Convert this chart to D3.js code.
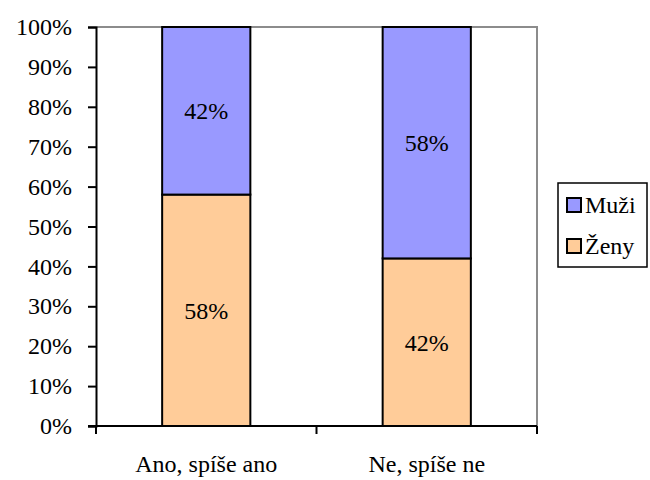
<!DOCTYPE html>
<html>
<head>
<meta charset="utf-8">
<script src="https://cdn.jsdelivr.net/npm/d3@7"></script>
<style>
  html, body { margin: 0; padding: 0; background: #fff; }
  svg { display: block; }
  svg text { font-family: "Times New Roman", "Liberation Serif", Tinos, "DejaVu Serif", serif !important; fill: #000; }
</style>
</head>
<body>
<svg id="chart" width="650" height="480"></svg>
<script>
// Share of answers by gender, per answer group
const categories = ["Ano, spíše ano", "Ne, spíše ne"];
const seriesNames = ["Ženy", "Muži"];
const zeny = [58, 42];
const muzi = [42, 58];
const yTicks = [0, 10, 20, 30, 40, 50, 60, 70, 80, 90, 100];
const colors = { "Muži": "#9999FF", "Ženy": "#FFCC99" };

const svg = d3.select("#chart");
const plot = { left: 96, right: 537, top: 27, bottom: 426 };

const x = d3.scaleBand().domain(categories).range([plot.left, plot.right]).paddingInner(0.6).paddingOuter(0.3);
const y = d3.scaleLinear().domain([0, 100]).range([plot.bottom, plot.top]);

// Stack the two series (women at the bottom, men on top)
const rows = categories.map((c, i) => ({ cat: c, "Ženy": zeny[i], "Muži": muzi[i] }));
const stacked = d3.stack().keys(seriesNames)(rows);

// Plot-area frame (top and right edges in grey)
svg.append("path")
  .attr("d", `M${plot.left},${plot.top}H${plot.right}V${plot.bottom}`)
  .attr("fill", "none").attr("stroke", "#8c8c8c").attr("stroke-width", 2);

// Bars
stacked.forEach(layer => {
  const key = layer.key;
  svg.append("g").selectAll("rect").data(layer).join("rect")
    .attr("x", d => x(d.data.cat))
    .attr("width", x.bandwidth())
    .attr("y", d => y(d[1]))
    .attr("height", d => y(d[0]) - y(d[1]))
    .attr("fill", colors[key])
    .attr("stroke", "#000").attr("stroke-width", 2);

  svg.append("g").selectAll("text").data(layer).join("text")
    .attr("x", d => x(d.data.cat) + x.bandwidth() / 2)
    .attr("y", d => (y(d[0]) + y(d[1])) / 2)
    .attr("dy", "0.35em")
    .attr("text-anchor", "middle")
    .attr("font-size", 24)
    .text(d => (d[1] - d[0]) + "%");
});

// Y axis
const yAxis = svg.append("g").attr("transform", `translate(${plot.left},0)`)
  .call(d3.axisLeft(y).tickValues(yTicks).tickSize(8).tickPadding(16).tickFormat(d => d + "%"));
yAxis.attr("font-family", null).attr("font-size", null);
yAxis.select(".domain").attr("stroke", "#000").attr("stroke-width", 2);
yAxis.selectAll(".tick line").attr("stroke", "#000").attr("stroke-width", 2);
yAxis.selectAll(".tick text").attr("font-size", 24).attr("fill", "#000");

// X axis: ticks at category boundaries
const xBound = d3.scaleLinear().domain([0, categories.length]).range([plot.left, plot.right]);
const xAxisG = svg.append("g").attr("transform", `translate(0,${plot.bottom})`);
xAxisG.append("line").attr("x1", plot.left - 8).attr("x2", plot.right)
  .attr("stroke", "#000").attr("stroke-width", 2);
xAxisG.selectAll("line.tk").data(d3.range(categories.length + 1)).join("line")
  .attr("class", "tk")
  .attr("x1", d => xBound(d)).attr("x2", d => xBound(d))
  .attr("y1", 0).attr("y2", 8)
  .attr("stroke", "#000").attr("stroke-width", 2);
xAxisG.selectAll("text").data(categories).join("text")
  .attr("x", d => x(d) + x.bandwidth() / 2)
  .attr("y", 46)
  .attr("text-anchor", "middle")
  .attr("font-size", 24)
  .text(d => d);

// Legend
const legend = svg.append("g");
legend.append("rect").attr("x", 558).attr("y", 183).attr("width", 89).attr("height", 84)
  .attr("fill", "#fff").attr("stroke", "#000").attr("stroke-width", 1.5);
const legendItems = ["Muži", "Ženy"];
legendItems.forEach((name, i) => {
  const yy = 198 + i * 41;
  legend.append("rect").attr("x", 567).attr("y", yy).attr("width", 14).attr("height", 14)
    .attr("fill", colors[name]).attr("stroke", "#000").attr("stroke-width", 2);
  legend.append("text").attr("x", 585).attr("y", yy + 7).attr("dy", "0.35em")
    .attr("font-size", 24).text(name);
});
</script>
</body>
</html>
